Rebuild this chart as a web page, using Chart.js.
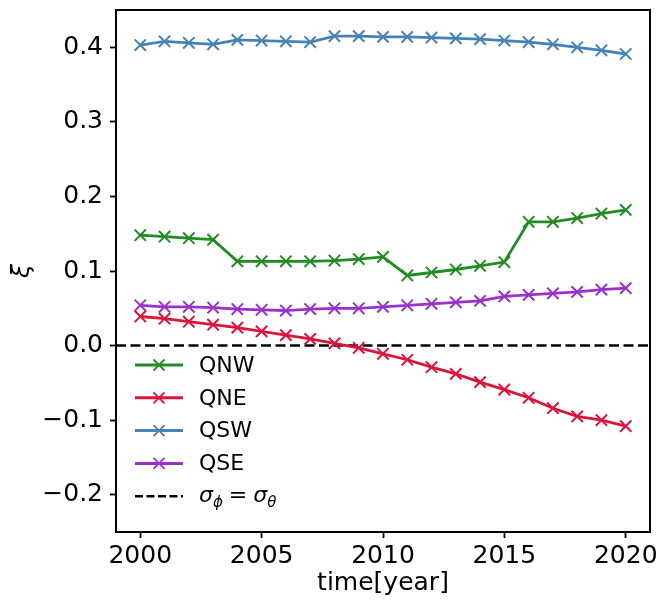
<!DOCTYPE html>
<html>
<head>
<meta charset="utf-8">
<script src="https://cdn.jsdelivr.net/npm/chart.js@4/dist/chart.umd.min.js"></script>
<style>
  html, body { margin: 0; padding: 0; background: #fff; }
  canvas { display: block; }
</style>
</head>
<body>
<canvas id="xiChart" width="660" height="600"></canvas>
<script>
// Datos
const years = [2000, 2001, 2002, 2003, 2004, 2005, 2006, 2007, 2008, 2009, 2010,
               2011, 2012, 2013, 2014, 2015, 2016, 2017, 2018, 2019, 2020];
const qnw = [0.148, 0.146, 0.144, 0.142, 0.113, 0.113, 0.113, 0.113, 0.114, 0.116, 0.119,
             0.094, 0.098, 0.102, 0.107, 0.112, 0.166, 0.166, 0.171, 0.177, 0.182];
const qne = [0.039, 0.036, 0.032, 0.028, 0.024, 0.019, 0.014, 0.009, 0.003, -0.003, -0.011,
             -0.019, -0.029, -0.038, -0.049, -0.059, -0.070, -0.084, -0.095, -0.100, -0.108];
const qsw = [0.403, 0.408, 0.406, 0.404, 0.410, 0.409, 0.408, 0.407, 0.415, 0.415, 0.414,
             0.414, 0.413, 0.412, 0.411, 0.409, 0.407, 0.404, 0.400, 0.396, 0.391];
const qse = [0.054, 0.052, 0.052, 0.051, 0.049, 0.048, 0.047, 0.049, 0.050, 0.050, 0.052,
             0.054, 0.056, 0.058, 0.060, 0.066, 0.068, 0.070, 0.072, 0.075, 0.077];

const seriesNames = ['QNW', 'QNE', 'QSW', 'QSE'];
const seriesColors = ['#228B22', '#DC143C', '#4682B4', '#9932CC'];
const xTicks = [2000, 2005, 2010, 2015, 2020];
const yTicks = [-0.2, -0.1, 0.0, 0.1, 0.2, 0.3, 0.4];
const xRange = [1999, 2021];
const yRange = [-0.25, 0.45];

const FONT = "'DejaVu Sans', 'Liberation Sans', sans-serif";

const toPoints = vals => years.map((yr, i) => ({ x: yr, y: vals[i] }));

const datasets = [qnw, qne, qsw, qse].map((vals, i) => ({
    label: seriesNames[i],
    data: toPoints(vals),
    borderColor: seriesColors[i],
    backgroundColor: seriesColors[i],
    borderWidth: 2.8,
    pointStyle: 'crossRot',
    pointRadius: 8,
    pointBorderWidth: 2,
    pointBorderColor: seriesColors[i],
    tension: 0,
    fill: false
}));

// línea de referencia sigma_phi = sigma_theta
datasets.push({
    label: 'sigma',
    data: [{ x: xRange[0], y: 0 }, { x: xRange[1], y: 0 }],
    borderColor: '#000',
    borderWidth: 2.4,
    borderDash: [10, 4.5],
    pointRadius: 0,
    fill: false
});

// marco del área de trazado + leyenda estilo matplotlib
const framePlugin = {
    id: 'frame',
    afterDraw(chart) {
        const { ctx, chartArea: a } = chart;
        ctx.save();
        ctx.strokeStyle = '#000';
        ctx.lineWidth = 2;
        ctx.strokeRect(a.left, a.top, a.right - a.left, a.bottom - a.top);

        // leyenda
        const x0 = a.left + 19, x1 = a.left + 67, xm = a.left + 43, xt = a.left + 83;
        const rowY = i => a.bottom - 167 + i * 32.8;
        ctx.textBaseline = 'middle';
        ctx.fillStyle = '#000';
        seriesNames.forEach((name, i) => {
            const y = rowY(i);
            ctx.strokeStyle = seriesColors[i];
            ctx.lineWidth = 3;
            ctx.setLineDash([]);
            ctx.beginPath(); ctx.moveTo(x0, y); ctx.lineTo(x1, y); ctx.stroke();
            ctx.lineWidth = 1.8;
            ctx.beginPath();
            ctx.moveTo(xm - 5.5, y - 5.5); ctx.lineTo(xm + 5.5, y + 5.5);
            ctx.moveTo(xm - 5.5, y + 5.5); ctx.lineTo(xm + 5.5, y - 5.5);
            ctx.stroke();
            ctx.font = '22px ' + FONT;
            ctx.fillText(name, xt, y + 1);
        });
        const y = rowY(4);
        ctx.strokeStyle = '#000';
        ctx.lineWidth = 2.4;
        ctx.setLineDash([8, 3.5]);
        ctx.beginPath(); ctx.moveTo(x0, y); ctx.lineTo(x1, y); ctx.stroke();
        ctx.setLineDash([]);
        // σ_φ = σ_θ
        let cx = xt;
        const big = 'italic 22px ' + FONT, small = 'italic 15px ' + FONT;
        const put = (txt, font, dy) => {
            ctx.font = font;
            ctx.fillText(txt, cx, y + dy);
            cx += ctx.measureText(txt).width;
        };
        put('σ', big, 0);
        put('ϕ', small, 7);
        cx += 6;
        put('=', '22px ' + FONT, 0);
        cx += 6;
        put('σ', big, 0);
        put('θ', small, 7);
        ctx.restore();
    }
};

new Chart(document.getElementById('xiChart'), {
    type: 'line',
    data: { datasets },
    plugins: [framePlugin],
    options: {
        responsive: false,
        animation: false,
        layout: { padding: { top: 10, right: 8, left: 0, bottom: 0 } },
        plugins: {
            legend: { display: false },
            tooltip: { enabled: false }
        },
        scales: {
            x: {
                type: 'linear',
                min: xRange[0],
                max: xRange[1],
                afterBuildTicks: s => { s.ticks = xTicks.map(v => ({ value: v })); },
                afterFit: s => { s.height = 68; s.paddingLeft = 0; s.paddingRight = 0; },
                grid: { drawOnChartArea: false, color: '#000', tickLength: 6, tickWidth: 1.8 },
                border: { display: false },
                ticks: {
                    color: '#000',
                    padding: 3,
                    maxRotation: 0,
                    font: { family: FONT, size: 25 },
                    callback: v => String(v)
                },
                title: {
                    display: true,
                    text: 'time[year]',
                    color: '#000',
                    font: { family: FONT, size: 25 },
                    padding: { top: 0, bottom: 2 }
                }
            },
            y: {
                type: 'linear',
                min: yRange[0],
                max: yRange[1],
                afterBuildTicks: s => { s.ticks = yTicks.map(v => ({ value: v })); },
                afterFit: s => { s.width = 116; s.paddingTop = 0; s.paddingBottom = 0; },
                grid: { drawOnChartArea: false, color: '#000', tickLength: 6, tickWidth: 1.8 },
                border: { display: false },
                ticks: {
                    color: '#000',
                    padding: 7,
                    font: { family: FONT, size: 25 },
                    callback: v => (v < -1e-9 ? '\u2212' : '') + Math.abs(v).toFixed(1)
                },
                title: {
                    display: true,
                    text: 'ξ',
                    color: '#000',
                    font: { family: FONT, size: 25, style: 'italic' },
                    padding: { top: 7, bottom: 0 }
                }
            }
        }
    }
});
</script>
</body>
</html>
